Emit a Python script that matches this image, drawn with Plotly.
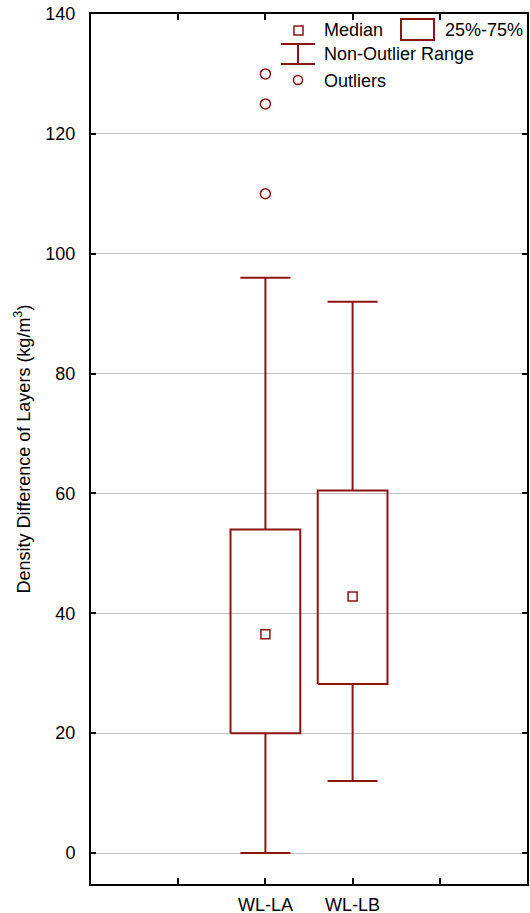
import plotly.graph_objects as go

# ---- data ----
categories = ["WL-LA", "WL-LB"]
positions = [2, 3]
q1 = [20.0, 28.2]
median = [36.5, 42.8]
q3 = [54.0, 60.5]
lower = [0.0, 12.0]
upper = [96.0, 92.0]
outliers = [[110.0, 125.0, 130.0], []]
y_ticks = [0, 20, 40, 60, 80, 100, 120, 140]

# ---- style ----
RED = "#8b1414"
FONT = "Liberation Sans, Arial, sans-serif"
FS = 18
BOX_HALF = 0.4
CAP_HALF = 0.287
LW = 2

fig = go.Figure()

for i, c in enumerate(positions):
    # box
    fig.add_trace(go.Scatter(
        x=[c - BOX_HALF, c + BOX_HALF, c + BOX_HALF, c - BOX_HALF, c - BOX_HALF],
        y=[q1[i], q1[i], q3[i], q3[i], q1[i]],
        mode="lines", line=dict(color=RED, width=LW), hoverinfo="skip", showlegend=False))
    # whiskers
    fig.add_trace(go.Scatter(
        x=[c, c, None, c, c],
        y=[q3[i], upper[i], None, q1[i], lower[i]],
        mode="lines", line=dict(color=RED, width=LW), hoverinfo="skip", showlegend=False))
    # caps
    fig.add_trace(go.Scatter(
        x=[c - CAP_HALF, c + CAP_HALF, None, c - CAP_HALF, c + CAP_HALF],
        y=[upper[i], upper[i], None, lower[i], lower[i]],
        mode="lines", line=dict(color=RED, width=LW), hoverinfo="skip", showlegend=False))

# medians
fig.add_trace(go.Scatter(
    x=positions, y=median, mode="markers",
    marker=dict(symbol="square-open", size=9, color=RED, line=dict(width=1.5, color=RED)),
    showlegend=False))

# outliers
ox, oy = [], []
for i, c in enumerate(positions):
    for v in outliers[i]:
        ox.append(c)
        oy.append(v)
fig.add_trace(go.Scatter(
    x=ox, y=oy, mode="markers",
    marker=dict(symbol="circle-open", size=10, color=RED, line=dict(width=1.5, color=RED)),
    showlegend=False))

# ---- custom legend (pixel -> paper) ----
L, R, T, B = 91, 527, 14, 884
def px(x):
    return (x - L) / (R - L)
def py(y):
    return (B - y) / (B - T)

shapes = [
    dict(type="rect", xref="paper", yref="paper", x0=px(294), x1=px(303), y0=py(35), y1=py(26),
         line=dict(color=RED, width=1.5)),
    dict(type="rect", xref="paper", yref="paper", x0=px(401), x1=px(434), y0=py(40), y1=py(19),
         line=dict(color=RED, width=LW)),
    dict(type="line", xref="paper", yref="paper", x0=px(281), x1=px(315), y0=py(44), y1=py(44),
         line=dict(color=RED, width=LW)),
    dict(type="line", xref="paper", yref="paper", x0=px(281), x1=px(315), y0=py(64), y1=py(64),
         line=dict(color=RED, width=LW)),
    dict(type="line", xref="paper", yref="paper", x0=px(298), x1=px(298), y0=py(44), y1=py(64),
         line=dict(color=RED, width=LW)),
    dict(type="circle", xref="paper", yref="paper", x0=px(293.5), x1=px(302.5), y0=py(84.5), y1=py(75.5),
         line=dict(color=RED, width=1.5)),
]
annotations = []
for txt, x, y in [("Median", 322, 30), ("25%-75%", 443, 30),
                  ("Non-Outlier Range", 322, 54), ("Outliers", 322, 81)]:
    annotations.append(dict(text=txt, xref="paper", yref="paper", x=px(x), y=py(y),
                            xanchor="left", yanchor="middle", showarrow=False,
                            font=dict(family=FONT, size=FS, color="black")))

fig.update_layout(
    width=530, height=913,
    margin=dict(l=L, r=530 - R, t=T, b=913 - B, autoexpand=False),
    paper_bgcolor="white", plot_bgcolor="white",
    font=dict(family=FONT, size=FS, color="black"),
    shapes=shapes, annotations=annotations,
    showlegend=False,
)
fig.update_xaxes(
    range=[0, 5], tickvals=[1, 2, 3, 4], ticktext=["", categories[0], categories[1], ""],
    showgrid=False, zeroline=False, showline=True, linecolor="black", linewidth=2,
    mirror="ticks", ticks="inside", ticklen=6, tickwidth=1.5, tickcolor="black",
    ticklabelstandoff=3, tickfont=dict(family=FONT, size=FS), automargin=False,
)
fig.update_yaxes(
    range=[-5.17, 140], tickvals=y_ticks,
    showgrid=True, gridcolor="#c0c0c0", gridwidth=1, zeroline=False,
    showline=True, linecolor="black", linewidth=2,
    mirror="ticks", ticks="inside", ticklen=5, tickwidth=1.5, tickcolor="black",
    ticklabelstandoff=10, tickfont=dict(family=FONT, size=FS), automargin=False,
    title=dict(text="Density Difference of Layers (kg/m<sup>3</sup>)", font=dict(family=FONT, size=FS),
               standoff=10),
)

fig.write_html("out.html",
               config={"displayModeBar": False},
               post_script="document.body.style.margin='0';document.body.style.overflow='hidden';")
